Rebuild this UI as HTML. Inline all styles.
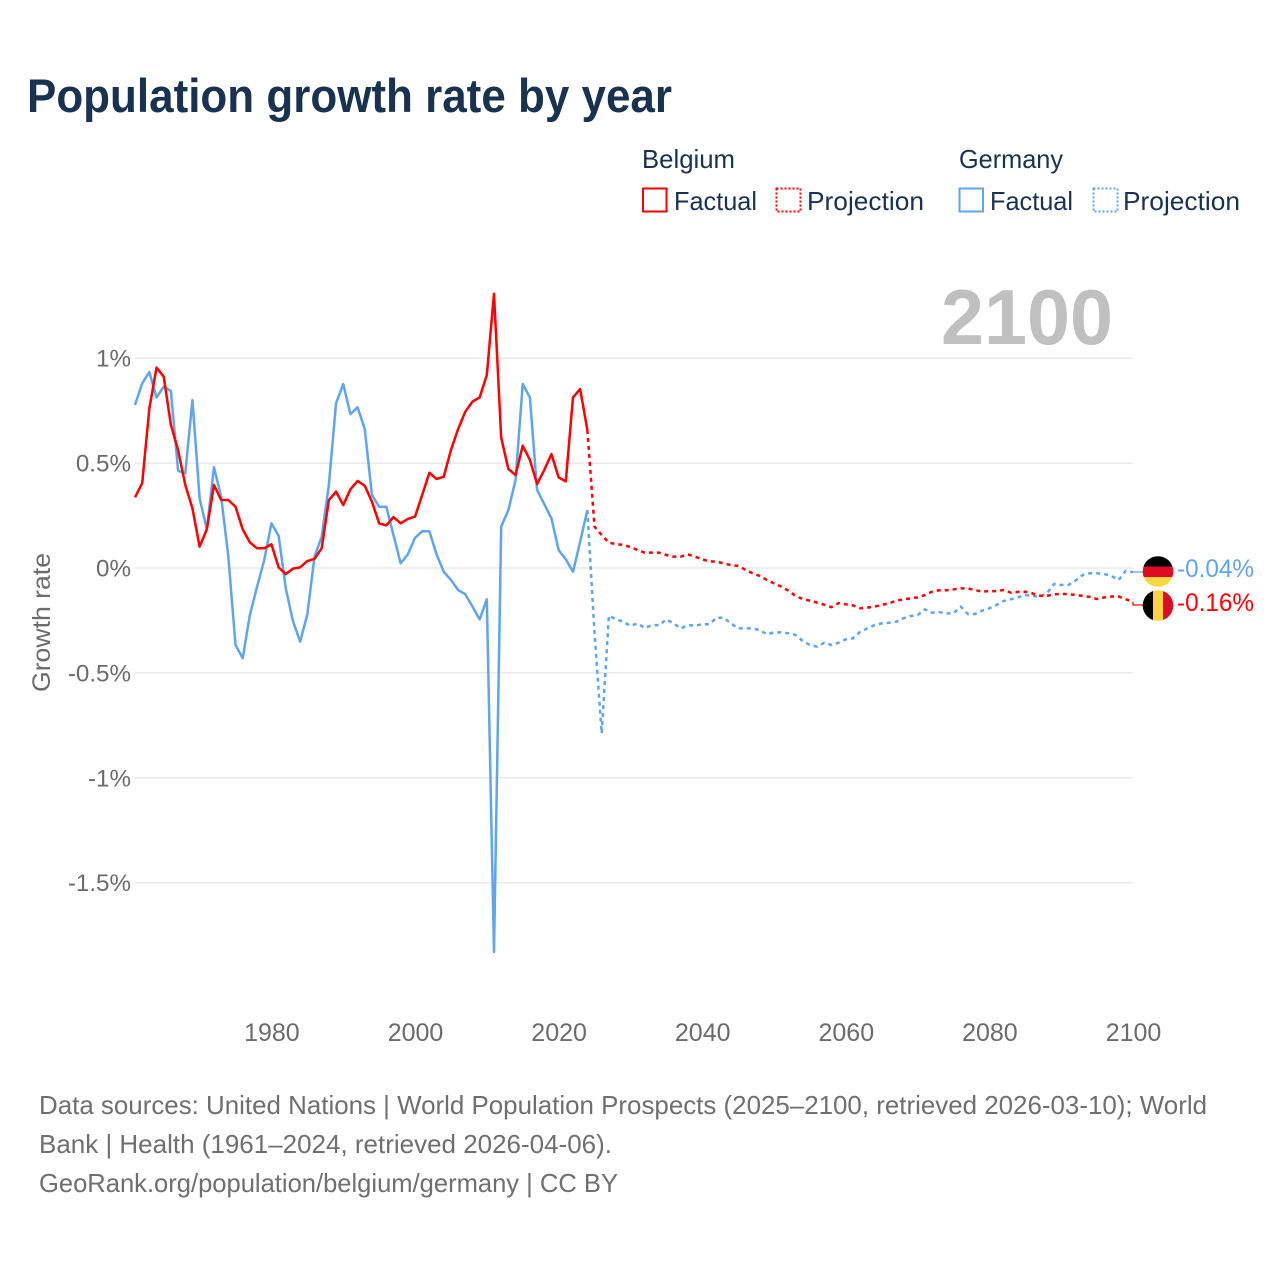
<!DOCTYPE html>
<html lang="en">
<head>
<meta charset="utf-8">
<title>Population growth rate by year</title>
<style>
html,body{margin:0;padding:0;background:#fff;width:1280px;height:1280px;overflow:hidden}
svg{display:block}
text{font-family:"Liberation Sans",sans-serif}
</style>
</head>
<body>
<svg id="chart" xmlns="http://www.w3.org/2000/svg" width="1280" height="1280" viewBox="0 0 1280 1280">
  <rect width="1280" height="1280" fill="#fff"/>
  <text x="27" y="112" font-size="47" font-weight="700" fill="#18324f" textLength="645" lengthAdjust="spacingAndGlyphs">Population growth rate by year</text>

  <g font-size="26" fill="#18324f">
    <text x="642" y="168" textLength="93" lengthAdjust="spacingAndGlyphs">Belgium</text>
    <rect x="643" y="188.500" width="23.500" height="23" fill="none" stroke="#ff0000" stroke-width="2"/>
    <text x="674" y="210" textLength="83" lengthAdjust="spacingAndGlyphs">Factual</text>
    <rect x="776.500" y="188.500" width="24" height="23" fill="none" stroke="#ff0000" stroke-width="2" stroke-dasharray="2 2"/>
    <text x="807" y="210" textLength="117" lengthAdjust="spacingAndGlyphs">Projection</text>
    <text x="959" y="168" textLength="104" lengthAdjust="spacingAndGlyphs">Germany</text>
    <rect x="959.500" y="188.500" width="23.500" height="23" fill="none" stroke="#5fa5ec" stroke-width="2"/>
    <text x="990" y="210" textLength="83" lengthAdjust="spacingAndGlyphs">Factual</text>
    <rect x="1093.500" y="188.500" width="24" height="23" fill="none" stroke="#5fa5ec" stroke-width="2" stroke-dasharray="2 2"/>
    <text x="1123" y="210" textLength="117" lengthAdjust="spacingAndGlyphs">Projection</text>
  </g>

  <text x="941" y="344" font-size="78" font-weight="700" fill="#c0c0c0" textLength="172" lengthAdjust="spacingAndGlyphs">2100</text>
  <text transform="translate(50 622.500) rotate(-90)" text-anchor="middle" font-size="25" fill="#6b6b6b" textLength="139" lengthAdjust="spacingAndGlyphs">Growth rate</text>

  <g id="grid"></g>
  <g id="yticks"></g>
  <g id="xticks"></g>
  <g id="series"></g>

  <defs>
    <clipPath id="clip-de"><circle cx="1158" cy="571.500" r="15.300"/></clipPath>
    <clipPath id="clip-be"><circle cx="1158" cy="605.500" r="15.300"/></clipPath>
  </defs>
  <g clip-path="url(#clip-de)">
    <rect x="1142" y="556" width="32" height="11" fill="#000"/>
    <rect x="1142" y="566.500" width="32" height="10.500" fill="#dd0b25"/>
    <rect x="1142" y="577" width="32" height="11" fill="#ffd640"/>
  </g>
  <g clip-path="url(#clip-be)">
    <rect x="1142" y="590" width="11" height="32" fill="#000"/>
    <rect x="1153" y="590" width="10" height="32" fill="#ffd640"/>
    <rect x="1163" y="590" width="11" height="32" fill="#dd0b25"/>
  </g>
  <text x="1177" y="577" font-size="25" fill="#5fa5ec" textLength="77" lengthAdjust="spacingAndGlyphs">-0.04%</text>
  <text x="1177" y="611" font-size="25" fill="#ff0000" textLength="77" lengthAdjust="spacingAndGlyphs">-0.16%</text>

  <g font-size="26" fill="#6f6f6f">
    <text x="39" y="1114" textLength="1168" lengthAdjust="spacingAndGlyphs">Data sources: United Nations | World Population Prospects (2025–2100, retrieved 2026-03-10); World</text>
    <text x="39" y="1153" textLength="573" lengthAdjust="spacingAndGlyphs">Bank | Health (1961–2024, retrieved 2026-04-06).</text>
    <text x="39" y="1192" textLength="579" lengthAdjust="spacingAndGlyphs">GeoRank.org/population/belgium/germany | CC BY</text>
  </g>
</svg>

<script>
const factualStartYear = 1961;
const projectionStartYear = 2024;
const xTickYears = [1980, 2000, 2020, 2040, 2060, 2080, 2100];
const yTickValues = [1, 0.5, 0, -0.5, -1, -1.5];
const yTickLabels = ["1%", "0.5%", "0%", "-0.5%", "-1%", "-1.5%"];

const belgiumFactual = [0.337,0.404,0.761,0.955,0.912,0.682,0.562,0.396,0.284,0.102,0.184,0.396,0.324,0.324,0.292,0.184,0.122,0.094,0.094,0.113,0.003,-0.029,-0.003,0.003,0.033,0.044,0.094,0.324,0.364,0.300,0.375,0.415,0.392,0.316,0.213,0.203,0.243,0.213,0.234,0.245,0.348,0.454,0.424,0.435,0.562,0.662,0.745,0.793,0.813,0.920,1.307,0.621,0.472,0.443,0.583,0.515,0.400,0.467,0.543,0.432,0.413,0.813,0.853,0.658];
const germanyFactual = [0.777,0.880,0.934,0.813,0.864,0.844,0.464,0.451,0.800,0.332,0.184,0.480,0.340,0.054,-0.367,-0.430,-0.224,-0.089,0.038,0.213,0.154,-0.097,-0.253,-0.351,-0.221,0.054,0.149,0.396,0.785,0.877,0.733,0.766,0.662,0.348,0.292,0.292,0.157,0.022,0.065,0.144,0.175,0.175,0.065,-0.018,-0.057,-0.105,-0.125,-0.184,-0.245,-0.149,-1.830,0.197,0.276,0.419,0.877,0.813,0.372,0.305,0.237,0.086,0.041,-0.018,0.125,0.276];
const belgiumProjection = [0.658,0.197,0.157,0.121,0.114,0.110,0.100,0.086,0.073,0.073,0.073,0.062,0.054,0.054,0.065,0.054,0.041,0.032,0.030,0.022,0.014,0.010,-0.008,-0.025,-0.038,-0.057,-0.073,-0.089,-0.108,-0.133,-0.148,-0.156,-0.165,-0.175,-0.187,-0.167,-0.173,-0.178,-0.192,-0.189,-0.184,-0.176,-0.168,-0.157,-0.149,-0.145,-0.140,-0.129,-0.113,-0.106,-0.106,-0.102,-0.097,-0.097,-0.105,-0.113,-0.110,-0.110,-0.105,-0.118,-0.114,-0.113,-0.121,-0.132,-0.133,-0.125,-0.124,-0.124,-0.129,-0.133,-0.138,-0.148,-0.140,-0.136,-0.136,-0.149,-0.160];
const germanyProjection = [0.276,-0.311,-0.788,-0.227,-0.245,-0.256,-0.276,-0.264,-0.286,-0.272,-0.273,-0.245,-0.264,-0.288,-0.272,-0.275,-0.268,-0.268,-0.237,-0.237,-0.264,-0.288,-0.288,-0.288,-0.296,-0.316,-0.307,-0.307,-0.311,-0.319,-0.348,-0.367,-0.375,-0.356,-0.367,-0.356,-0.340,-0.335,-0.304,-0.288,-0.272,-0.264,-0.261,-0.256,-0.240,-0.229,-0.224,-0.197,-0.213,-0.210,-0.216,-0.216,-0.184,-0.219,-0.219,-0.203,-0.192,-0.176,-0.157,-0.149,-0.140,-0.129,-0.133,-0.137,-0.121,-0.076,-0.081,-0.081,-0.060,-0.033,-0.025,-0.025,-0.029,-0.038,-0.057,-0.013,-0.020];

const SVG_NS = "http://www.w3.org/2000/svg";
const BLUE = "#5fa5ec";
const RED = "#ff0000";

function xScale(year) { return 135 + (year - 1961) * 7.18; }
function yScale(value) { return 568 - value * 209.8; }

function make(tag, attrs, parent) {
  const el = document.createElementNS(SVG_NS, tag);
  for (const key in attrs) el.setAttribute(key, attrs[key]);
  parent.appendChild(el);
  return el;
}

function linePoints(startYear, values) {
  return values.map(function (v, i) {
    return xScale(startYear + i).toFixed(2) + "," + yScale(v).toFixed(2);
  }).join(" ");
}

const gridGroup = document.getElementById("grid");
const yTickGroup = document.getElementById("yticks");
const xTickGroup = document.getElementById("xticks");
const seriesGroup = document.getElementById("series");

yTickValues.forEach(function (v, i) {
  const line = make("line", { x1: 135, x2: 1133, y1: yScale(v), y2: yScale(v), stroke: "#e9e9e9", "stroke-width": 1.5 }, gridGroup);
  
  
  const label = make("text", { x: 131, y: yScale(v) + 8.5, "text-anchor": "end", "font-size": 24.2, fill: "#6b6b6b" }, yTickGroup);
  
  
  label.textContent = yTickLabels[i];
});

xTickYears.forEach(function (year) {
  const label = make("text", { x: xScale(year) + 0.5, y: 1041, "text-anchor": "middle", "font-size": 25, fill: "#6b6b6b" }, xTickGroup);
  
  
  label.textContent = String(year);
});

function drawSeries(name, startYear, values, color, dashed) {
  const attrs = { points: linePoints(startYear, values), fill: "none", stroke: color, "stroke-width": 2.5, "stroke-linejoin": "round" };
  if (dashed) attrs["stroke-dasharray"] = "4 4";
  const line = make("polyline", attrs, seriesGroup);
  
  
}

drawSeries("germany-projection-line", projectionStartYear, germanyProjection, BLUE, true);
drawSeries("belgium-projection-line", projectionStartYear, belgiumProjection, RED, true);
drawSeries("germany-factual-line", factualStartYear, germanyFactual, BLUE, false);
drawSeries("belgium-factual-line", factualStartYear, belgiumFactual, RED, false);

function drawLeader(name, values, flagY, color) {
  const endY = yScale(values[values.length - 1]);
  const x = xScale(2100);
  const leader = make("polyline", { points: x + "," + endY + " " + x + "," + flagY + " 1143," + flagY, fill: "none", stroke: color, "stroke-width": 1.3 }, seriesGroup);
  
  
}

drawLeader("germany-label-leader", germanyProjection, 572, BLUE);
drawLeader("belgium-label-leader", belgiumProjection, 605, RED);
</script>
</body>
</html>
